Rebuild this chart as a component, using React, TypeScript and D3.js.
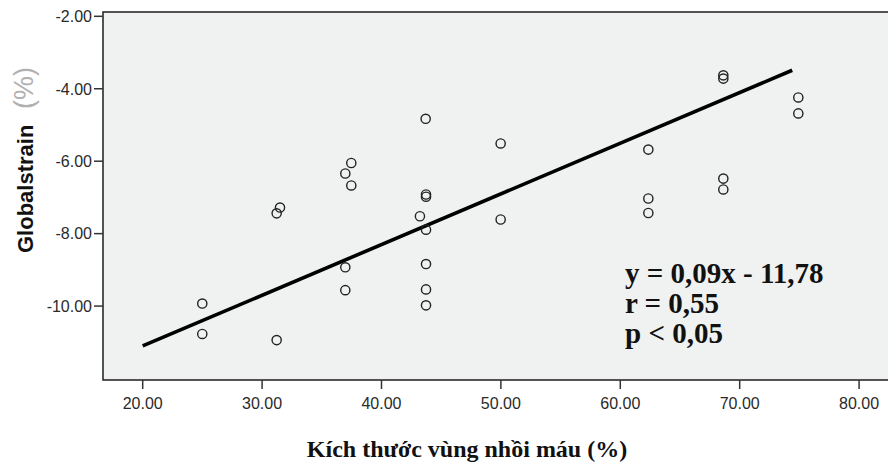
import React from 'react';
import * as d3 from 'd3';

// infarct size (%) vs global strain (%)
const infarctSize = [
  24.99, 24.99, 31.22, 31.22, 31.5, 36.97, 37.47, 37.47, 36.97, 36.97,
  43.22, 43.7, 43.73, 43.73, 43.73, 43.73, 43.73, 43.73, 49.98, 49.98,
  62.35, 62.35, 62.35, 68.63, 68.63, 68.63, 68.63, 74.91, 74.91,
];
const globalStrain = [
  -9.93, -10.77, -10.94, -7.44, -7.28, -6.34, -6.05, -6.67, -8.93, -9.56,
  -7.52, -4.83, -6.92, -6.98, -7.89, -8.84, -9.54, -9.98, -5.51, -7.61,
  -5.68, -7.03, -7.43, -3.63, -3.72, -6.48, -6.78, -4.24, -4.68,
];
const fitX = [20, 74.4];
const fitY = [-11.1, -3.49];
const xTicks = [20, 30, 40, 50, 60, 70, 80];
const yTicks = [-2, -4, -6, -8, -10];
const statLines = ['y = 0,09x - 11,78', 'r = 0,55', 'p < 0,05'];

const W = 888;
const H = 470;
const plot = { left: 103, right: 890, top: 12, bottom: 380 };

export default function App() {
  const x = d3.scaleLinear().domain([16.675, 82.59]).range([plot.left, plot.right]);
  const y = d3.scaleLinear().domain([-1.881, -12.041]).range([plot.top, plot.bottom]);

  const line = d3.line<number>()
    .x((d) => x(d))
    .y((d, i) => y(fitY[i]));

  const axisFont = 'Arial, "Liberation Sans", sans-serif';
  const serif = '"Times New Roman", "Liberation Serif", serif';

  return (
    <svg width={W} height={H} style={{ position: 'absolute', left: 0, top: 0, background: '#fff' }}>
      <rect x={plot.left} y={plot.top} width={plot.right - plot.left} height={plot.bottom - plot.top}
        fill="#f0f1f1" stroke="#2b2b2b" strokeWidth={1.6} />

      {/* y axis */}
      {yTicks.map((t) => (
        <g key={t}>
          <line x1={plot.left - 9} x2={plot.left} y1={y(t)} y2={y(t)} stroke="#333" strokeWidth={1.5} />
          <text x={plot.left - 11} y={y(t)} dy="0.36em" textAnchor="end" fontFamily={axisFont}
            fontSize={16} fill="#2a2a2a">{t.toFixed(2)}</text>
        </g>
      ))}

      {/* x axis */}
      {xTicks.map((t) => (
        <g key={t}>
          <line x1={x(t)} x2={x(t)} y1={plot.bottom} y2={plot.bottom + 9} stroke="#333" strokeWidth={1.5} />
          <text x={x(t)} y={409} textAnchor="middle" fontFamily={axisFont} fontSize={16} fill="#2a2a2a">
            {t.toFixed(2)}
          </text>
        </g>
      ))}

      {/* fit line */}
      <path d={line(fitX) ?? ''} fill="none" stroke="#000" strokeWidth={3.6} />

      {infarctSize.map((v, i) => (
        <circle key={i} cx={x(v)} cy={y(globalStrain[i])} r={4.6} fill="none" stroke="#222" strokeWidth={1.4} />
      ))}

      {statLines.map((s, i) => (
        <text key={s} x={625} y={283 + i * 30} fontFamily={serif} fontWeight="bold" fontSize={29} fill="#111">
          {s}
        </text>
      ))}

      {/* axis titles */}
      <text transform="translate(33,253) rotate(-90)" fontFamily={axisFont} fontWeight="bold" fontSize={22} fill="#111">
        Globalstrain
      </text>
      <text transform="translate(33,109) rotate(-90)" fontFamily={axisFont} fontSize={27} fill="#b0b0b0">
        (%)
      </text>
      <text x={467} y={457} textAnchor="middle" fontFamily={serif} fontWeight="bold" fontSize={24} fill="#111">
        Kích thước vùng nhồi máu (%)
      </text>
    </svg>
  );
}
